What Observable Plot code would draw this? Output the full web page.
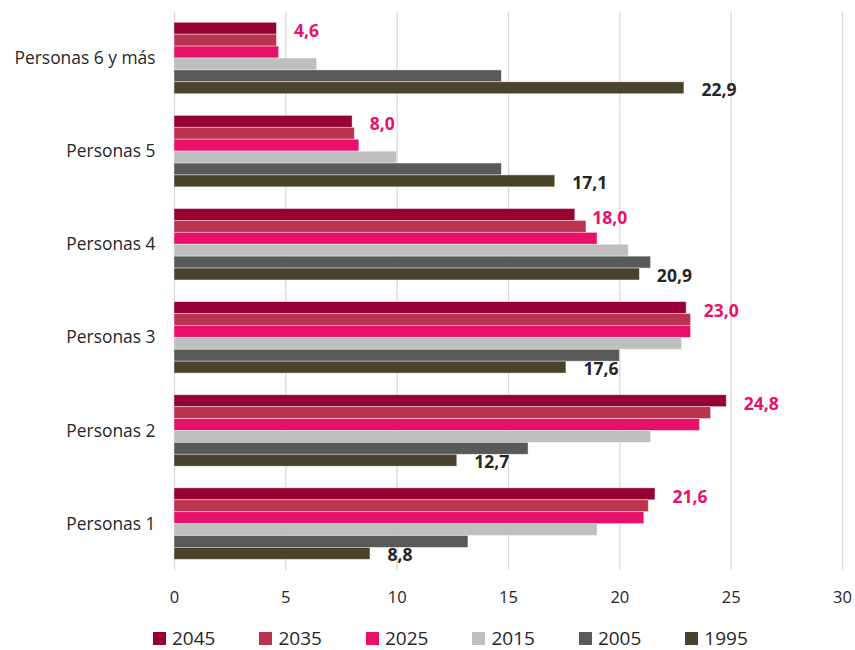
<!DOCTYPE html>
<html>
<head>
<meta charset="utf-8">
<script src="https://cdn.jsdelivr.net/npm/d3@7"></script>
<script src="https://cdn.jsdelivr.net/npm/@observablehq/plot@0.6"></script>
<style>
  body { margin: 0; background: #fff; font-family: "Open Sans", sans-serif; }
  #chart svg { display: block; }
  #legend { display: flex; gap: 44px; padding-left: 153px; margin-top: 11px; height: 30px; align-items: center; font-size: 19px; color: #262626; }
  .item { display: flex; align-items: center; }
  .sw { width: 13px; height: 13px; margin-right: 6px; }
</style>
</head>
<body>
<div id="chart"></div>
<div id="legend"></div>
<script>
const categories = ["Personas 6 y más", "Personas 5", "Personas 4", "Personas 3", "Personas 2", "Personas 1"];
const years = ["2045", "2035", "2025", "2015", "2005", "1995"];
const v2045 = [4.6, 8.0, 18.0, 23.0, 24.8, 21.6];
const v2035 = [4.6, 8.1, 18.5, 23.2, 24.1, 21.3];
const v2025 = [4.7, 8.3, 19.0, 23.2, 23.6, 21.1];
const v2015 = [6.4, 10.0, 20.4, 22.8, 21.4, 19.0];
const v2005 = [14.7, 14.7, 21.4, 20.0, 15.9, 13.2];
const v1995 = [22.9, 17.1, 20.9, 17.6, 12.7, 8.8];
const xTicks = [0, 5, 10, 15, 20, 25, 30];
const colors = ["#960032", "#BA344F", "#E8116A", "#BFBFBF", "#595959", "#49432C"];

const series = [v2045, v2035, v2025, v2015, v2005, v1995];
const data = [];
categories.forEach((c, i) => {
  years.forEach((y, j) => data.push({cat: c, year: y, value: series[j][i]}));
});
const fmt = v => d3.format(".1f")(v).replace(".", ",");

const H = 612;
const chart = Plot.plot({
  width: 855,
  height: H,
  marginLeft: 174,
  marginRight: 13,
  marginTop: 22.3,
  marginBottom: H - 559.3,
  style: {fontFamily: "Open Sans, sans-serif", color: "#262626", background: "transparent"},
  x: {domain: [0, 30], axis: null},
  y: {domain: years, padding: 0, round: false, axis: null},
  fy: {domain: categories, paddingInner: 0.233, paddingOuter: 0, round: false, axis: null, label: null},
  color: {domain: years, range: colors},
  marks: [
    Plot.ruleX(xTicks, {stroke: "#d9d9d9", strokeWidth: 1.3, insetTop: -10.5, insetBottom: -10.8}),
    Plot.barX(data, {x: "value", y: "year", fy: "cat", fill: "year", stroke: "white", strokeOpacity: 0.5, strokeWidth: 0.8}),
    Plot.text(data.filter(d => d.year === "2045"), {
      x: "value", y: "year", fy: "cat", text: d => fmt(d.value),
      dx: 17, dy: 3, textAnchor: "start", fill: "#E8116A", fontWeight: 700, fontSize: 17.5
    }),
    Plot.text(data.filter(d => d.year === "1995"), {
      x: "value", y: "year", fy: "cat", text: d => fmt(d.value),
      dx: 17, dy: 2, textAnchor: "start", fill: "#262626", fontWeight: 700, fontSize: 17.5
    }),
    Plot.axisX({ticks: xTicks, tickSize: 0, tickPadding: 31, fontSize: 16.5, label: null, tickFormat: d => String(d)}),
    Plot.axisFy({anchor: "left", tickSize: 0, tickPadding: 19, fontSize: 17.4, label: null})
  ]
});
document.getElementById("chart").appendChild(chart);

const legend = document.getElementById("legend");
years.forEach((y, i) => {
  const it = document.createElement("div");
  it.className = "item";
  const sw = document.createElement("span");
  sw.className = "sw";
  sw.style.background = colors[i];
  const t = document.createElement("span");
  t.textContent = y;
  it.appendChild(sw);
  it.appendChild(t);
  legend.appendChild(it);
});
</script>
</body>
</html>
